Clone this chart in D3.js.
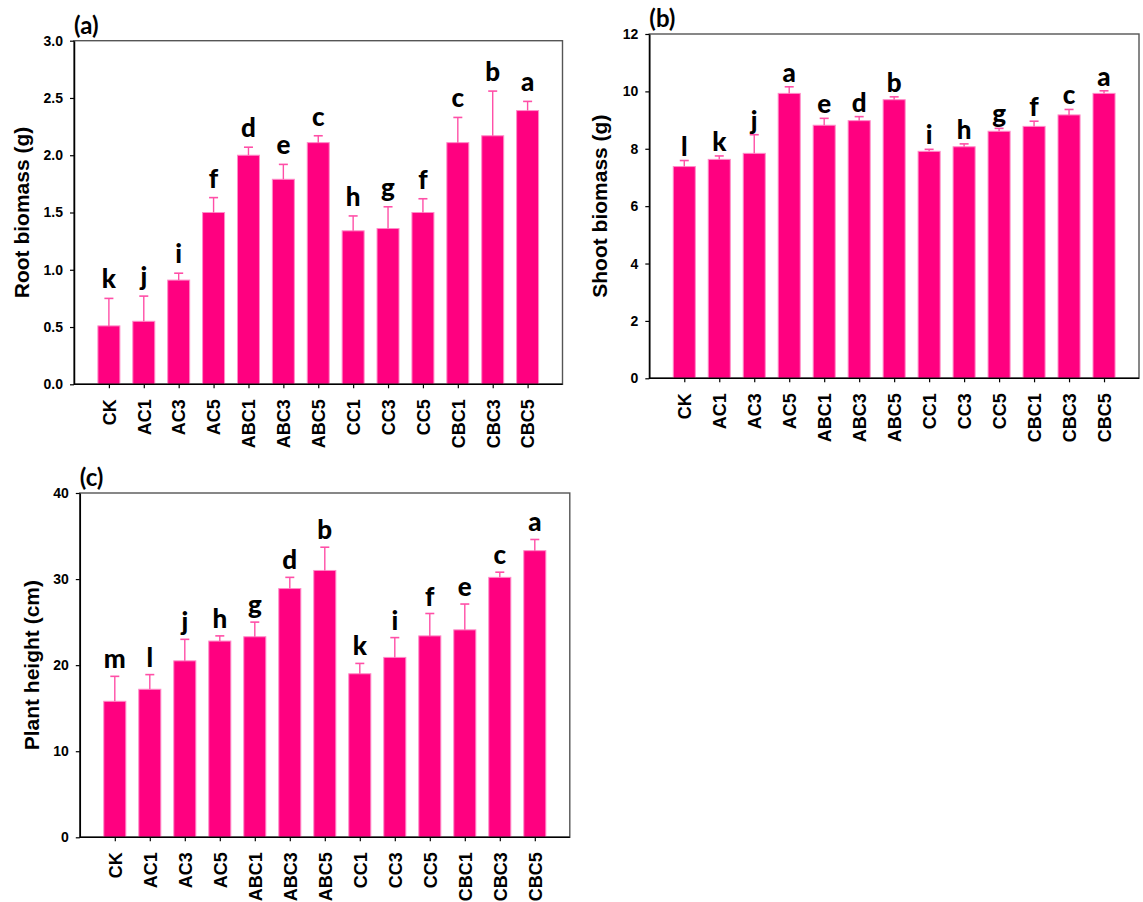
<!DOCTYPE html>
<html>
<head>
<meta charset="utf-8">
<script src="https://cdn.jsdelivr.net/npm/d3@7"></script>
<style>
  html, body { margin: 0; padding: 0; background: #fff; }
  svg { display: block; }
  .tick text { font-family: Arial, "Liberation Sans", sans-serif; font-weight: bold; fill: #000; }
</style>
</head>
<body>
<svg id="fig" width="1143" height="902"></svg>
<script>
// Treatments
const categories = ["CK", "AC1", "AC3", "AC5", "ABC1", "ABC3", "ABC5", "CC1", "CC3", "CC5", "CBC1", "CBC3", "CBC5"];

// (a) Root biomass (g): mean, SD, significance letters
const rootMean = [0.51, 0.55, 0.91, 1.50, 2.00, 1.79, 2.11, 1.34, 1.36, 1.50, 2.11, 2.17, 2.39];
const rootSd = [0.24, 0.22, 0.06, 0.13, 0.07, 0.13, 0.06, 0.13, 0.19, 0.12, 0.22, 0.39, 0.08];
const rootLetters = ["k", "j", "i", "f", "d", "e", "c", "h", "g", "f", "c", "b", "a"];
const rootTicks = [0, 0.5, 1.0, 1.5, 2.0, 2.5, 3.0];

// (b) Shoot biomass (g)
const shootMean = [7.38, 7.63, 7.84, 9.93, 8.82, 8.98, 9.71, 7.91, 8.07, 8.61, 8.78, 9.18, 9.93];
const shootSd = [0.21, 0.12, 0.65, 0.23, 0.24, 0.14, 0.10, 0.07, 0.10, 0.10, 0.18, 0.19, 0.09];
const shootLetters = ["l", "k", "j", "a", "e", "d", "b", "i", "h", "g", "f", "c", "a"];
const shootTicks = [0, 2, 4, 6, 8, 10, 12];

// (c) Plant height (cm)
const heightMean = [15.8, 17.2, 20.5, 22.8, 23.3, 28.9, 31.0, 19.0, 20.9, 23.4, 24.1, 30.2, 33.3];
const heightSd = [2.9, 1.7, 2.5, 0.6, 1.7, 1.3, 2.7, 1.2, 2.3, 2.6, 3.0, 0.6, 1.3];
const heightLetters = ["m", "l", "j", "h", "g", "d", "b", "k", "i", "f", "e", "c", "a"];
const heightTicks = [0, 10, 20, 30, 40];

const BAR_FILL = "#FF0080";
const BAR_EDGE = "#FF8CC8";
const ERR_COLOR = "#FF4FA7";

const panels = [
  { tag: "(a)", title: "Root biomass (g)", mean: rootMean, sd: rootSd, letters: rootLetters,
    ticks: rootTicks, fmt: d3.format(".1f"), max: 3.0,
    box: { left: 74, right: 562.5, top: 40.7, bottom: 384.3 }, titleX: 22, letterGap: 10 },
  { tag: "(b)", title: "Shoot biomass (g)", mean: shootMean, sd: shootSd, letters: shootLetters,
    ticks: shootTicks, fmt: d3.format("d"), max: 12,
    box: { left: 649.3, right: 1139, top: 34, bottom: 378.3 }, titleX: 600, letterGap: 5 },
  { tag: "(c)", title: "Plant height (cm)", mean: heightMean, sd: heightSd, letters: heightLetters,
    ticks: heightTicks, fmt: d3.format("d"), max: 40,
    box: { left: 79.8, right: 569.8, top: 493, bottom: 837.3 }, titleX: 32, letterGap: 8 }
];

const svg = d3.select("#fig");
svg.append("rect").attr("width", 1143).attr("height", 902).attr("fill", "#fff");

panels.forEach(p => {
  const b = p.box;
  const g = svg.append("g");

  const x = d3.scalePoint().domain(categories).range([b.left, b.right]).padding(1);
  const y = d3.scaleLinear().domain([0, p.max]).range([b.bottom, b.top]);
  const barW = x.step() * 0.63;

  const rows = categories.map((c, i) => ({ c, m: p.mean[i], s: p.sd[i], l: p.letters[i] }));

  // frame (top and right edges)
  g.append("rect")
    .attr("x", b.left).attr("y", b.top)
    .attr("width", b.right - b.left).attr("height", b.bottom - b.top)
    .attr("fill", "none").attr("stroke", "#555").attr("stroke-width", 1.4);

  // bars
  g.selectAll("rect.bar").data(rows).join("rect")
    .attr("class", "bar")
    .attr("x", d => x(d.c) - barW / 2)
    .attr("y", d => y(d.m))
    .attr("width", barW)
    .attr("height", d => y(0) - y(d.m))
    .attr("fill", BAR_FILL)
    .attr("stroke", BAR_EDGE)
    .attr("stroke-width", 1);

  // upper error bars
  g.selectAll("line.err").data(rows).join("line")
    .attr("class", "err")
    .attr("x1", d => x(d.c)).attr("x2", d => x(d.c))
    .attr("y1", d => y(d.m)).attr("y2", d => y(d.m + d.s))
    .attr("stroke", ERR_COLOR).attr("stroke-width", 1.4);
  g.selectAll("line.cap").data(rows).join("line")
    .attr("class", "cap")
    .attr("x1", d => x(d.c) - 4.5).attr("x2", d => x(d.c) + 4.5)
    .attr("y1", d => y(d.m + d.s)).attr("y2", d => y(d.m + d.s))
    .attr("stroke", ERR_COLOR).attr("stroke-width", 1.6);

  // significance letters
  g.selectAll("text.sig").data(rows).join("text")
    .attr("class", "sig")
    .attr("x", d => x(d.c))
    .attr("y", d => y(d.m + d.s) - p.letterGap)
    .attr("text-anchor", "middle")
    .attr("font-family", "Lato, 'Noto Sans', sans-serif")
    .attr("font-weight", "900")
    .attr("font-size", 26)
    .attr("fill", "#000")
    .text(d => d.l);

  // y axis
  const ya = g.append("g")
    .attr("transform", `translate(${b.left},0)`)
    .call(d3.axisLeft(y).tickValues(p.ticks).tickFormat(p.fmt).tickSize(4).tickSizeOuter(0).tickPadding(7));
  ya.select(".domain").attr("stroke", "#000").attr("stroke-width", 1.5);
  ya.selectAll(".tick line").attr("stroke", "#000").attr("stroke-width", 1.2);
  ya.selectAll(".tick text").attr("font-size", 14);

  // x axis
  const xa = g.append("g")
    .attr("transform", `translate(0,${b.bottom})`)
    .call(d3.axisBottom(x).tickSize(4).tickSizeOuter(0));
  xa.select(".domain").attr("stroke", "#000").attr("stroke-width", 1.5)
    .attr("d", `M${b.left},0H${b.right}`);
  xa.selectAll(".tick line").attr("stroke", "#000").attr("stroke-width", 1.2);
  xa.selectAll(".tick text")
    .attr("font-size", 18)
    .attr("text-anchor", "end")
    .attr("dy", "0.35em")
    .attr("transform", "translate(0,15) rotate(-90)")
    .attr("x", 0).attr("y", 0);

  // axis title
  g.append("text")
    .attr("transform", `translate(${p.titleX},${(b.top + b.bottom) / 2}) rotate(-90)`)
    .attr("text-anchor", "middle")
    .attr("dy", "0.35em")
    .attr("font-family", "Arial, 'Liberation Sans', sans-serif")
    .attr("font-weight", "bold")
    .attr("font-size", 21)
    .attr("fill", "#000")
    .text(p.title);

  // panel tag
  g.append("text")
    .attr("x", b.left)
    .attr("y", b.top - 7)
    .attr("font-family", "Lato, 'Noto Sans', sans-serif")
    .attr("font-weight", "bold")
    .attr("font-size", 24)
    .attr("fill", "#000")
    .text(p.tag);
});
</script>
</body>
</html>
